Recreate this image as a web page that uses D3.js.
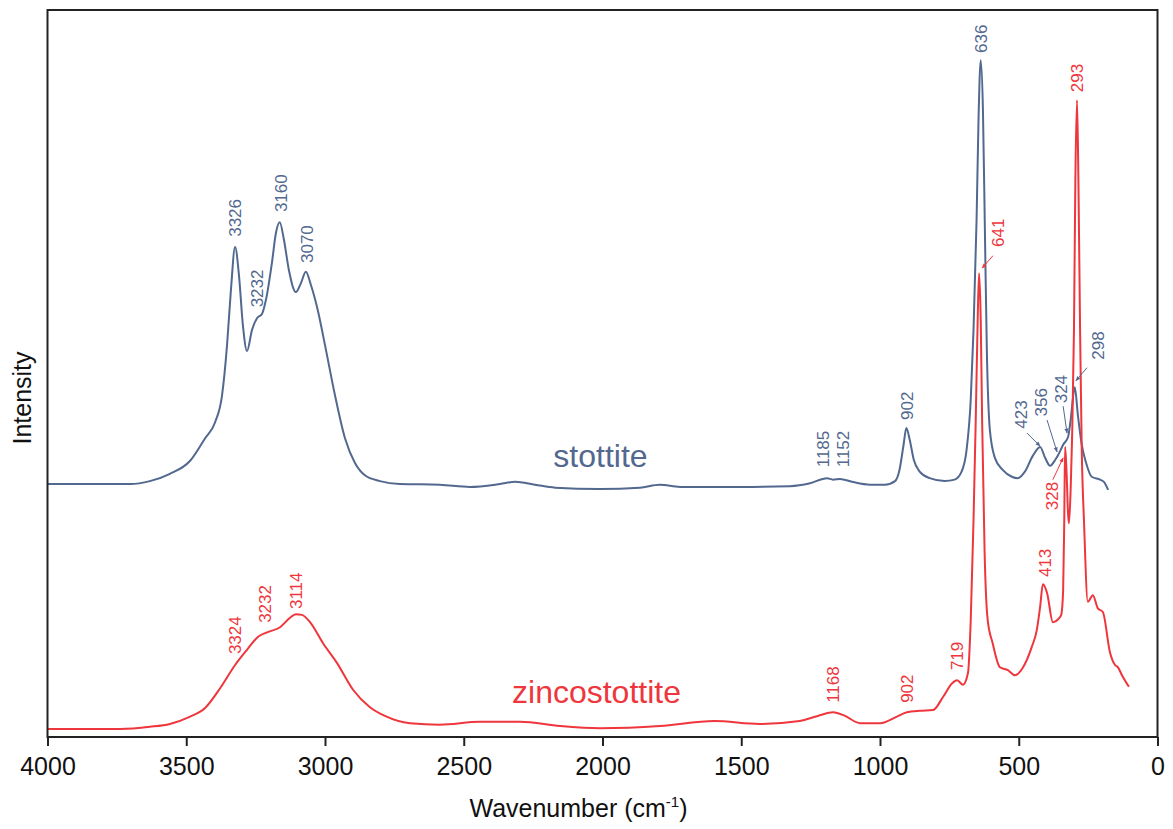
<!DOCTYPE html>
<html>
<head>
<meta charset="utf-8">
<script src="https://cdn.jsdelivr.net/npm/d3@7"></script>
<style>
  body { margin: 0; background: #fff; }
  svg { font-family: "Liberation Sans", Arial, sans-serif; }
</style>
</head>
<body>
<svg id="chart" width="1173" height="829"></svg>
<script>
// spectra: [wavenumber, intensity (arb. units)]
const stottite = [
  [4000, 34.8], [3811, 34.8], [3703, 34.8], [3631, 35.2], [3559, 36.2], [3486, 38.0],
  [3432, 41.1], [3396, 43.3], [3371, 47.0], [3353, 53.9], [3339, 61.5], [3324, 67.4],
  [3310, 63.5], [3296, 56.7], [3281, 53.1], [3263, 56.0], [3245, 57.6], [3227, 58.2],
  [3213, 60.1], [3191, 65.3], [3177, 69.3], [3163, 70.8], [3148, 68.4], [3130, 64.2],
  [3105, 61.2], [3087, 62.4], [3069, 64.0], [3051, 62.2], [3026, 58.7], [3000, 53.9],
  [2964, 47.0], [2928, 41.1], [2892, 37.7], [2856, 36.0], [2802, 35.2], [2730, 34.8],
  [2586, 34.7], [2478, 34.4], [2369, 34.8], [2315, 35.1], [2243, 34.7], [2171, 34.3],
  [2009, 34.1], [1865, 34.3], [1793, 34.7], [1721, 34.4], [1505, 34.4], [1325, 34.5],
  [1252, 34.9], [1191, 35.6], [1169, 35.4], [1144, 35.5], [1101, 35.1], [1036, 34.7],
  [982, 34.7], [946, 35.2], [930, 36.7], [915, 40.2], [905, 42.5], [893, 40.9],
  [878, 38.1], [857, 36.5], [821, 35.6], [767, 35.2], [731, 35.4], [706, 36.5],
  [688, 39.5], [673, 46.4], [663, 56.0], [652, 71.1], [645, 84.9], [637, 93.1],
  [629, 86.2], [622, 69.7], [615, 53.2], [604, 42.2], [586, 38.4], [557, 36.7],
  [525, 35.8], [503, 35.6], [478, 36.5], [449, 38.7], [423, 39.9], [405, 38.4],
  [387, 37.3], [369, 38.1], [358, 38.8], [340, 40.2], [322, 41.3], [313, 43.6],
  [298, 48.1], [287, 44.3], [273, 40.2], [258, 37.8], [237, 35.8], [207, 35.4],
  [193, 35.1], [178, 34.0]
];

const zincostottite = [
  [4000, 1.1], [3739, 1.1], [3631, 1.4], [3559, 1.8], [3486, 2.8], [3432, 4.0],
  [3378, 6.7], [3324, 9.9], [3281, 12.0], [3241, 13.8], [3209, 14.4], [3162, 15.1],
  [3126, 16.4], [3105, 16.9], [3083, 16.8], [3054, 15.8], [3007, 12.9], [2957, 10.2],
  [2899, 6.5], [2838, 4.1], [2784, 2.9], [2694, 1.9], [2586, 1.7], [2441, 2.1],
  [2297, 2.1], [2153, 1.5], [2009, 1.2], [1793, 1.5], [1598, 2.2], [1433, 1.8],
  [1289, 2.2], [1224, 2.9], [1169, 3.4], [1126, 2.9], [1072, 1.9], [1000, 1.9],
  [939, 2.8], [903, 3.4], [856, 3.6], [809, 3.7], [773, 5.5], [740, 7.4],
  [722, 7.8], [701, 7.2], [683, 8.8], [673, 16.1], [663, 29.8], [655, 43.6],
  [648, 57.4], [643, 63.8], [637, 57.4], [632, 43.6], [623, 25.3], [612, 16.1],
  [594, 12.9], [568, 9.6], [539, 9.2], [514, 8.5], [486, 9.5], [453, 12.4],
  [435, 14.7], [423, 17.9], [413, 21.0], [398, 19.8], [377, 15.8], [358, 16.2],
  [347, 16.8], [340, 20.2], [336, 29.8], [333, 39.9], [328, 36.7], [322, 30.5],
  [319, 29.4], [313, 34.0], [308, 40.9], [301, 56.0], [296, 76.6], [290, 87.6],
  [285, 76.6], [279, 56.0], [273, 39.5], [265, 29.8], [251, 18.6], [233, 19.5],
  [215, 17.7], [197, 17.2], [171, 11.6], [153, 9.9], [143, 9.6], [128, 8.5],
  [103, 6.9]
];

// peak labels: text, label position (wn, intensity), optional arrow [wn1, i1, wn2, i2]
const stottiteLabels = [
  { t: "3326", wn: 3326, i: 68.8 },
  { t: "3232", wn: 3247, i: 59.1 },
  { t: "3160", wn: 3159, i: 72.2 },
  { t: "3070", wn: 3067, i: 65.2 },
  { t: "1185", wn: 1205, i: 37.1 },
  { t: "1152", wn: 1133, i: 37.1 },
  { t: "902", wn: 903, i: 43.6 },
  { t: "636", wn: 636, i: 94.1 },
  { t: "423", wn: 492, i: 42.4, arrow: [470, 41.8, 423, 40.0] },
  { t: "356", wn: 420, i: 44.1, arrow: [398, 43.6, 362, 39.2] },
  { t: "324", wn: 348, i: 45.9, arrow: [340, 45.5, 326, 41.8] },
  { t: "298", wn: 214, i: 51.9, arrow: [254, 50.8, 294, 49.0] }
];

const zincoLabels = [
  { t: "3324", wn: 3326, i: 11.4 },
  { t: "3232", wn: 3216, i: 15.7 },
  { t: "3114", wn: 3104, i: 17.6 },
  { t: "1168", wn: 1169, i: 4.7 },
  { t: "902", wn: 903, i: 4.7 },
  { t: "719", wn: 722, i: 9.2 },
  { t: "641", wn: 575, i: 67.4, arrow: [593, 66.2, 632, 64.5] },
  { t: "413", wn: 407, i: 22.0 },
  { t: "328", wn: 380, i: 31.2, arrow: [377, 35.4, 340, 38.4] },
  { t: "293", wn: 290, i: 88.7 }
];

const xTicks = [4000, 3500, 3000, 2500, 2000, 1500, 1000, 500, 0];

const blue = "#53688f";
const red = "#ee363c";

const width = 1173, height = 829;
const margin = { top: 10, right: 15.5, bottom: 92, left: 47.5 };

const svg = d3.select("#chart");

const x = d3.scaleLinear()
  .domain([4000, 0])
  .range([margin.left, width - margin.right]);

const y = d3.scaleLinear()
  .domain([0, 100])
  .range([height - margin.bottom, margin.top]);

// arrow head
svg.append("defs").selectAll("marker")
  .data([["ahBlue", blue], ["ahRed", red]])
  .join("marker")
  .attr("id", d => d[0])
  .attr("viewBox", "0 0 10 10")
  .attr("refX", 9)
  .attr("refY", 5)
  .attr("markerWidth", 5)
  .attr("markerHeight", 5)
  .attr("orient", "auto")
  .append("path")
  .attr("d", "M0,1L10,5L0,9Z")
  .attr("fill", d => d[1]);

// x axis
const xAxis = svg.append("g")
  .attr("transform", `translate(0,${height - margin.bottom})`)
  .call(d3.axisBottom(x).tickValues(xTicks).tickSize(9).tickPadding(11).tickFormat(d3.format("d")));
xAxis.select(".domain").remove();
xAxis.selectAll(".tick line").attr("stroke", "#222").attr("stroke-width", 2);
xAxis.selectAll(".tick text")
  .attr("font-size", 25)
  .attr("font-family", "Liberation Sans, Arial, sans-serif")
  .attr("fill", "#111");

// spectra
const line = d3.line()
  .x(d => x(d[0]))
  .y(d => y(d[1]))
  .curve(d3.curveMonotoneX);

svg.append("path")
  .datum(stottite)
  .attr("d", line)
  .attr("fill", "none")
  .attr("stroke", blue)
  .attr("stroke-width", 2);

svg.append("path")
  .datum(zincostottite)
  .attr("d", line)
  .attr("fill", "none")
  .attr("stroke", red)
  .attr("stroke-width", 2);

// peak labels
function drawLabels(labels, color, markerId) {
  const g = svg.append("g");
  g.selectAll("text")
    .data(labels)
    .join("text")
    .attr("transform", d => `translate(${x(d.wn)},${y(d.i)}) rotate(-90)`)
    .attr("dy", "0.36em")
    .attr("font-size", 17)
    .attr("fill", color)
    .text(d => d.t);

  g.selectAll("line")
    .data(labels.filter(d => d.arrow))
    .join("line")
    .attr("x1", d => x(d.arrow[0]))
    .attr("y1", d => y(d.arrow[1]))
    .attr("x2", d => x(d.arrow[2]))
    .attr("y2", d => y(d.arrow[3]))
    .attr("stroke", color)
    .attr("stroke-width", 1)
    .attr("marker-end", `url(#${markerId})`);
}

drawLabels(stottiteLabels, blue, "ahBlue");
drawLabels(zincoLabels, red, "ahRed");

// series names
svg.append("text")
  .attr("x", x(2000) - 2)
  .attr("y", 467)
  .attr("text-anchor", "middle")
  .attr("font-size", 32)
  .attr("fill", blue)
  .text("stottite");

svg.append("text")
  .attr("x", x(2000) - 6)
  .attr("y", 703)
  .attr("text-anchor", "middle")
  .attr("font-size", 32)
  .attr("fill", red)
  .text("zincostottite");

// frame
svg.append("rect")
  .attr("x", margin.left)
  .attr("y", margin.top)
  .attr("width", width - margin.left - margin.right)
  .attr("height", height - margin.top - margin.bottom)
  .attr("fill", "none")
  .attr("stroke", "#222")
  .attr("stroke-width", 2);

// axis titles
const xTitle = svg.append("text")
  .attr("x", (margin.left + width - margin.right) / 2 - 24)
  .attr("y", 817)
  .attr("text-anchor", "middle")
  .attr("font-size", 25)
  .attr("fill", "#111");
xTitle.append("tspan").text("Wavenumber (cm");
xTitle.append("tspan").attr("font-size", 15).attr("dy", -10).text("-1");
xTitle.append("tspan").attr("dy", 10).text(")");

svg.append("text")
  .attr("transform", "translate(31,398) rotate(-90)")
  .attr("text-anchor", "middle")
  .attr("font-size", 25)
  .attr("fill", "#111")
  .text("Intensity");
</script>
</body>
</html>
